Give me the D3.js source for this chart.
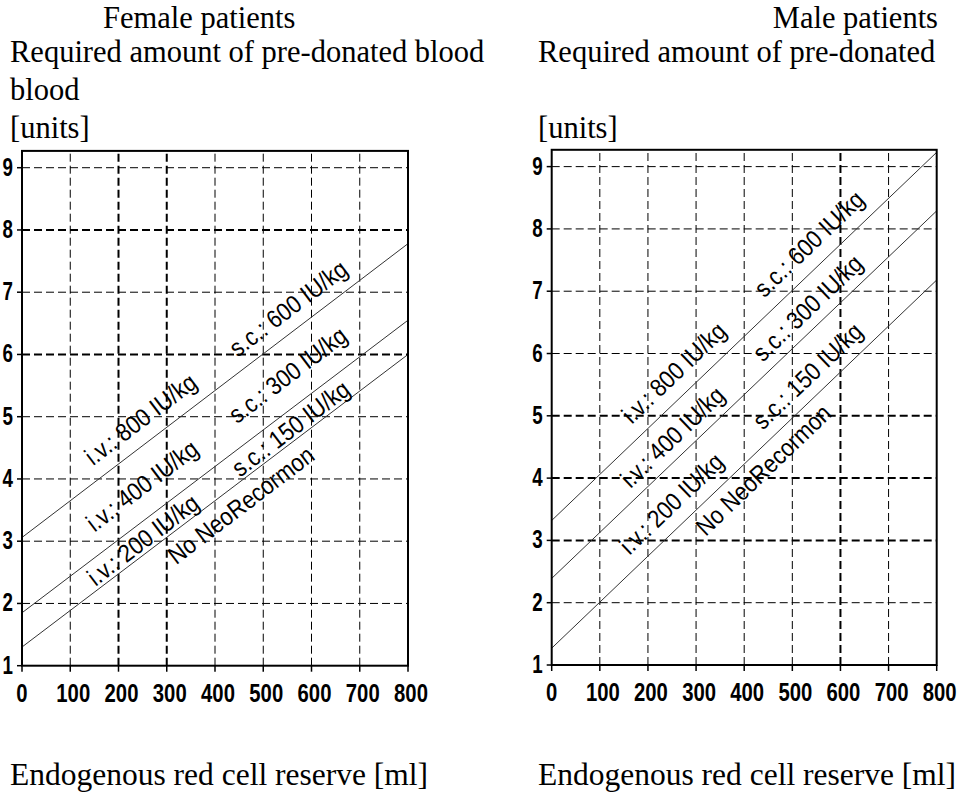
<!DOCTYPE html>
<html><head><meta charset="utf-8">
<script src="https://cdn.jsdelivr.net/npm/d3@7"></script>
<style>html,body{margin:0;padding:0;background:#fff;} svg{display:block}</style>
</head><body>
<script>
// ---- data ----
const xTicks = [0, 100, 200, 300, 400, 500, 600, 700, 800];
const yTicks = [1, 2, 3, 4, 5, 6, 7, 8, 9];

// Female patients: lines (x = red cell reserve ml, y = units)
const femaleHigh = [[0, 3.06], [800, 7.78]];   // i.v. 800 / s.c. 600
const femaleMid  = [[0, 1.85], [800, 6.55]];   // i.v. 400 / s.c. 300
const femaleLow  = [[0, 1.30], [800, 6.00]];   // i.v. 200 / s.c. 150

// Male patients
const maleHigh = [[0, 3.32], [800, 9.23]];
const maleMid  = [[0, 2.39], [800, 8.29]];
const maleLow  = [[0, 1.27], [800, 7.18]];

const labelTexts = ["i.v.: 800 IU/kg", "i.v.: 400 IU/kg", "i.v.: 200 IU/kg",
                    "s.c.: 600 IU/kg", "s.c.: 300 IU/kg", "s.c.: 150 IU/kg", "No NeoRecormon"];
const femaleLabelX = [246, 249, 251, 552, 551, 557, 454];
const femaleLabelY = [4.96, 3.89, 3.02, 6.74, 5.67, 4.81, 3.58];
const maleLabelX = [254, 251, 249, 535, 532, 532, 440];
const maleLabelY = [5.69, 4.66, 3.59, 7.76, 6.73, 5.64, 4.13];

const femaleBoldX = [200, 300], femaleBoldY = [6, 8];
const maleBoldX = [600], maleBoldY = [3, 4, 5];

const yTop = 9.27;

// ---- drawing ----
const W = 962, H = 793;
const svg = d3.select("body").append("svg").attr("width", W).attr("height", H);
svg.append("rect").attr("width", W).attr("height", H).attr("fill", "#fff");

const serif = "'Liberation Serif','Times New Roman',serif";
const sans = "'Liberation Sans',Arial,sans-serif";

function title(x, y, t, anchor, size) {
  svg.append("text").attr("x", x).attr("y", y).attr("text-anchor", anchor || "start")
    .attr("font-family", serif).attr("font-size", size || 31.5).attr("fill", "#000").text(t);
}
title(103, 28, "Female patients", "start", 30.5);
title(10, 62, "Required amount of pre-donated blood", "start", 30.5);
title(10, 100, "blood", "start", 30.5);
title(10, 138, "[units]", "start", 30.5);
title(938, 28, "Male patients", "end", 30.5);
title(538, 62, "Required amount of pre-donated", "start", 30.5);
title(538, 138, "[units]", "start", 30.5);
title(10, 785, "Endogenous red cell reserve [ml]");
title(538, 785, "Endogenous red cell reserve [ml]");

function panel(cfg) {
  const x = d3.scaleLinear().domain([0, 800]).range([cfg.x0, cfg.x1]);
  const y = d3.scaleLinear().domain([1, yTop]).range([cfg.y0, cfg.y1]);
  const g = svg.append("g");

  // vertical dashed grid
  g.selectAll(".vg").data(xTicks.filter(d => d > 0 && d < 800)).join("line")
    .attr("x1", d => x(d)).attr("x2", d => x(d))
    .attr("y1", y(1)).attr("y2", y(yTop))
    .attr("stroke", "#000").attr("stroke-width", d => cfg.boldX.includes(d) ? 2 : 1)
    .attr("stroke-dasharray", "8,4");
  // horizontal dashed grid
  g.selectAll(".hg").data(yTicks.filter(d => d > 1)).join("line")
    .attr("x1", x(0)).attr("x2", x(800))
    .attr("y1", d => y(d)).attr("y2", d => y(d))
    .attr("stroke", "#000").attr("stroke-width", d => cfg.boldY.includes(d) ? 2 : 1)
    .attr("stroke-dasharray", "8,4");

  // lines
  const line = d3.line().x(d => x(d[0])).y(d => y(d[1]));
  g.selectAll(".ln").data(cfg.lines).join("path")
    .attr("d", line).attr("fill", "none").attr("stroke", "#333").attr("stroke-width", 1);

  // labels
  const p = cfg.lines[0];
  const ang = Math.atan2(y(p[1][1]) - y(p[0][1]), x(p[1][0]) - x(p[0][0])) * 180 / Math.PI;
  labelTexts.forEach((t, i) => {
    g.append("text")
      .attr("transform", `translate(${x(cfg.lx[i])},${y(cfg.ly[i])}) rotate(${ang}) scale(0.88,1)`)
      .attr("text-anchor", "middle").attr("dominant-baseline", "central")
      .attr("font-family", sans).attr("font-size", 25).attr("fill", "#000").text(t);
  });

  // frame
  g.append("rect").attr("x", x(0)).attr("y", y(yTop))
    .attr("width", x(800) - x(0)).attr("height", y(1) - y(yTop))
    .attr("fill", "none").attr("stroke", "#000").attr("stroke-width", 2);

  // ticks
  g.selectAll(".xt").data(xTicks).join("line")
    .attr("x1", d => x(d)).attr("x2", d => x(d)).attr("y1", y(1)).attr("y2", y(1) + 6)
    .attr("stroke", "#000").attr("stroke-width", 1.5);
  g.selectAll(".yt").data(yTicks).join("line")
    .attr("x1", x(0) - 5).attr("x2", x(0)).attr("y1", d => y(d)).attr("y2", d => y(d))
    .attr("stroke", "#000").attr("stroke-width", 1.5);

  // tick labels
  g.selectAll(".xl").data(xTicks).join("text")
    .attr("transform", d => `translate(${x(d) + (d > 0 ? 3 : 0)},${y(1) + 36}) scale(0.78,1)`)
    .attr("text-anchor", "middle").attr("font-family", sans).attr("font-size", 26)
    .attr("font-weight", "bold").attr("fill", "#000").text(d => d);
  g.selectAll(".yl").data(yTicks).join("text")
    .attr("transform", d => `translate(${x(0) - 9},${y(d) + 8}) scale(0.75,1)`)
    .attr("text-anchor", "end").attr("font-family", sans).attr("font-size", 25)
    .attr("font-weight", "bold").attr("fill", "#000").text(d => d);
}

panel({x0: 22, x1: 408, y0: 665.7, y1: 150.9,
       lines: [femaleHigh, femaleMid, femaleLow],
       lx: femaleLabelX, ly: femaleLabelY, boldX: femaleBoldX, boldY: femaleBoldY});
panel({x0: 551.7, x1: 936.7, y0: 665, y1: 149.8,
       lines: [maleHigh, maleMid, maleLow],
       lx: maleLabelX, ly: maleLabelY, boldX: maleBoldX, boldY: maleBoldY});
</script>
</body></html>
